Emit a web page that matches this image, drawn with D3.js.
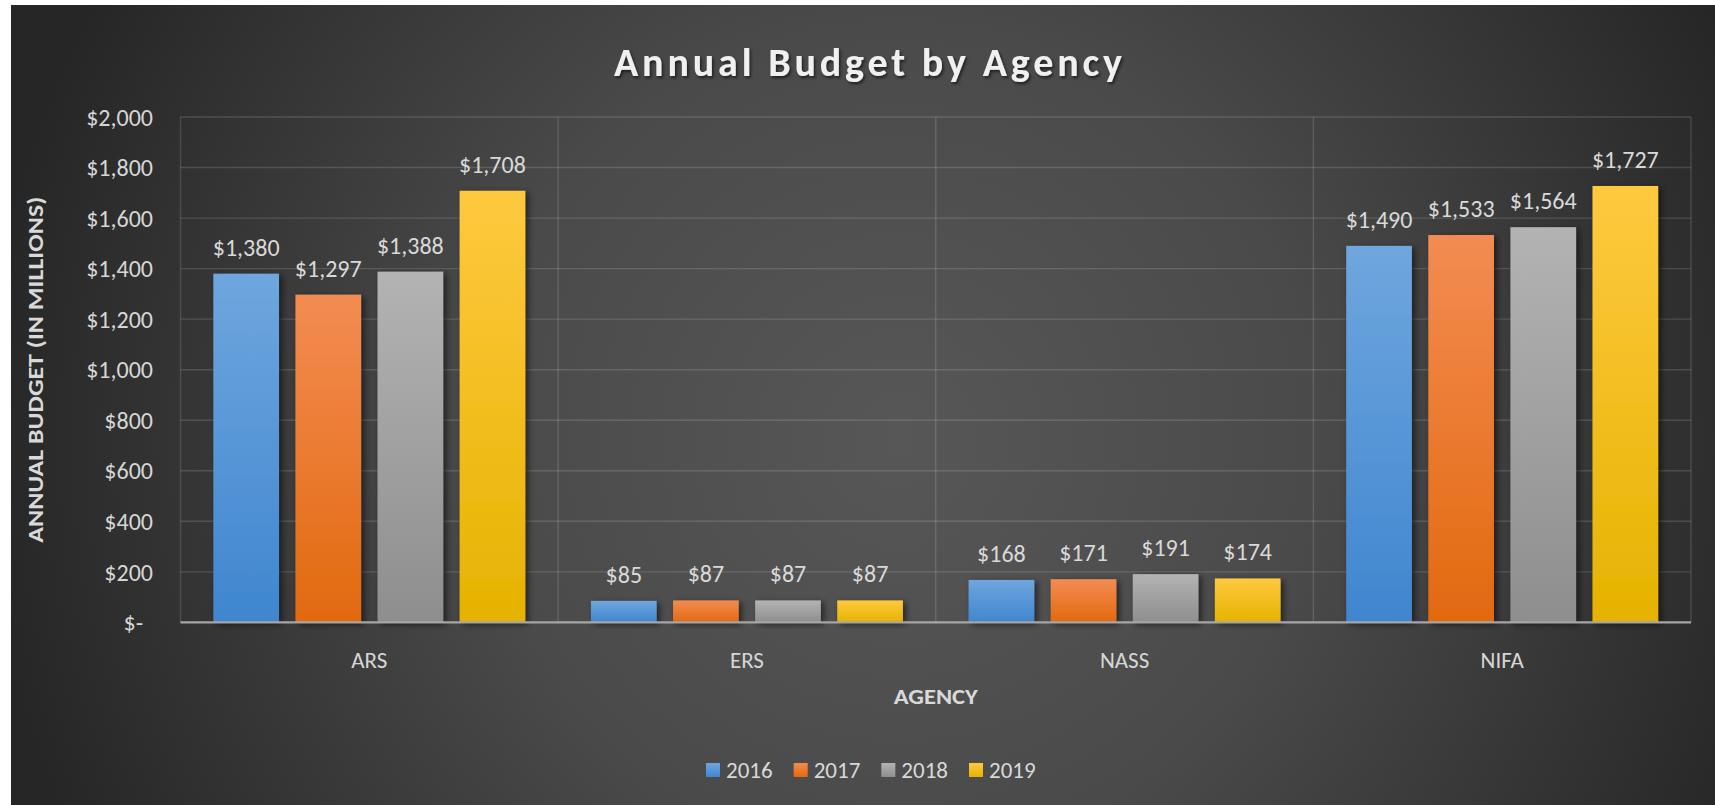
<!DOCTYPE html>
<html>
<head>
<meta charset="utf-8">
<script src="https://cdn.jsdelivr.net/npm/d3@7"></script>
<style>
  html, body { margin: 0; padding: 0; background: #ffffff; }
  svg { display: block; }
  text { font-family: Carlito, Lato, "Open Sans", sans-serif; }
</style>
</head>
<body>
<svg id="chart" width="1715" height="805"></svg>
<script>
// ---- data ----
const agencies = ["ARS", "ERS", "NASS", "NIFA"];
const years = ["2016", "2017", "2018", "2019"];
const values2016 = [1380, 85, 168, 1490];
const values2017 = [1297, 87, 171, 1533];
const values2018 = [1388, 87, 191, 1564];
const values2019 = [1708, 87, 174, 1727];
const yTicks = [0, 200, 400, 600, 800, 1000, 1200, 1400, 1600, 1800, 2000];
const seriesValues = [values2016, values2017, values2018, values2019];

// ---- styles ----
const colorsTop = ["#6fa6de", "#f38c52", "#b3b3b3", "#ffc93f"];
const colorsBottom = ["#3f86cf", "#e2690f", "#8e8e8e", "#e5b300"];

const W = 1715, H = 805;
const svg = d3.select("#chart");
const defs = svg.append("defs");

// background gradient
const bg = defs.append("radialGradient").attr("id", "bgGrad")
  .attr("gradientUnits", "userSpaceOnUse")
  .attr("cx", 900).attr("cy", 440).attr("r", 920);
bg.append("stop").attr("offset", "0").attr("stop-color", "#575757");
bg.append("stop").attr("offset", "0.45").attr("stop-color", "#4a4a4a");
bg.append("stop").attr("offset", "1").attr("stop-color", "#262626");

years.forEach((y, i) => {
  const g = defs.append("linearGradient").attr("id", "bar" + i)
    .attr("x1", 0).attr("y1", 0).attr("x2", 0).attr("y2", 1);
  g.append("stop").attr("offset", "0").attr("stop-color", colorsTop[i]);
  g.append("stop").attr("offset", "1").attr("stop-color", colorsBottom[i]);
});

const shadow = defs.append("filter").attr("id", "shadow")
  .attr("x", "-30%").attr("y", "-30%").attr("width", "160%").attr("height", "160%");
shadow.append("feDropShadow").attr("dx", 3).attr("dy", 2).attr("stdDeviation", 3)
  .attr("flood-color", "#000").attr("flood-opacity", 0.55);

const tshadow = defs.append("filter").attr("id", "tshadow")
  .attr("x", "-10%").attr("y", "-30%").attr("width", "120%").attr("height", "160%");
tshadow.append("feDropShadow").attr("dx", 1.5).attr("dy", 2).attr("stdDeviation", 1.5)
  .attr("flood-color", "#000").attr("flood-opacity", 0.6);

svg.append("rect").attr("x", 11).attr("y", 5).attr("width", W - 11).attr("height", H - 5)
  .attr("fill", "url(#bgGrad)");

// ---- scales ----
const plotL = 180.5, plotR = 1691, plotT = 117, plotB = 622.4;
const x0 = d3.scaleBand().domain(agencies).range([plotL, plotR]).padding(0);
const x1 = d3.scaleBand().domain(years).range([0, x0.bandwidth()])
  .paddingInner(0.2).paddingOuter(0.4);
const y = d3.scaleLinear().domain([0, 2000]).range([plotB, plotT]);

// gridlines
svg.append("g").selectAll("line").data(yTicks.filter(d => d > 0)).join("line")
  .attr("x1", plotL).attr("x2", plotR)
  .attr("y1", d => y(d)).attr("y2", d => y(d))
  .attr("stroke", "#ffffff").attr("stroke-opacity", 0.14).attr("stroke-width", 1.4);

// vertical category separators
const bounds = agencies.map(a => x0(a)).concat([x0(agencies[agencies.length - 1]) + x0.bandwidth()]);
svg.append("g").selectAll("line").data(bounds).join("line")
  .attr("x1", d => d).attr("x2", d => d)
  .attr("y1", plotT).attr("y2", plotB)
  .attr("stroke", "#ffffff").attr("stroke-opacity", 0.14).attr("stroke-width", 1.4);

// y axis labels
const fmt = d3.format(",");
const yAxis = d3.axisLeft(y).tickValues(yTicks).tickSize(0).tickPadding(0)
  .tickFormat(d => d === 0 ? "$-" : "$" + fmt(d));
const yg = svg.append("g").attr("transform", `translate(${153},0)`).call(yAxis);
yg.select(".domain").remove();
yg.selectAll("text")
  .attr("fill", "#d6d6d6").attr("font-size", 24)
  .attr("dx", d => d === 0 ? -10 : 0)
  .attr("dy", "0.34em");

// bars
const groups = svg.append("g").selectAll("g").data(agencies).join("g")
  .attr("transform", a => `translate(${x0(a)},0)`);

groups.selectAll("rect").data((a, ai) => years.map((yr, si) => ({ yr, si, v: seriesValues[si][ai] })))
  .join("rect")
  .attr("x", d => x1(d.yr))
  .attr("width", x1.bandwidth())
  .attr("y", d => y(d.v))
  .attr("height", d => y(0) - y(d.v))
  .attr("fill", d => `url(#bar${d.si})`)
  .attr("filter", "url(#shadow)");

groups.selectAll("text").data((a, ai) => years.map((yr, si) => ({ yr, si, v: seriesValues[si][ai] })))
  .join("text")
  .attr("x", d => x1(d.yr) + x1.bandwidth() / 2)
  .attr("y", d => y(d.v) - 18)
  .attr("text-anchor", "middle")
  .attr("fill", "#d9d9d9").attr("font-size", 24)
  .text(d => "$" + fmt(d.v));

// baseline
svg.append("line").attr("x1", plotL).attr("x2", plotR)
  .attr("y1", y(0)).attr("y2", y(0))
  .attr("stroke", "#a6a6a6").attr("stroke-width", 2.2);

// x axis labels
const xAxis = d3.axisBottom(x0).tickSize(0).tickPadding(0);
const xg = svg.append("g").attr("transform", `translate(0,${plotB})`).call(xAxis);
xg.select(".domain").remove();
xg.selectAll("text").attr("fill", "#d6d6d6").attr("font-size", 23)
  .attr("y", 46).attr("dy", 0);

// title
svg.append("text").attr("x", 868).attr("y", 76)
  .attr("text-anchor", "middle")
  .attr("fill", "#f0f0f0").attr("font-size", 40).attr("font-weight", "bold")
  .attr("textLength", 508).attr("lengthAdjust", "spacing")
  .attr("filter", "url(#tshadow)")
  .text("Annual Budget by Agency");

// axis titles
svg.append("text").attr("x", (plotL + plotR) / 2).attr("y", 704)
  .attr("text-anchor", "middle")
  .attr("fill", "#d9d9d9").attr("font-size", 22).attr("font-weight", "bold")
  .attr("textLength", 84).attr("lengthAdjust", "spacingAndGlyphs")
  .text("AGENCY");

svg.append("text")
  .attr("transform", `translate(43,${(plotT + plotB) / 2}) rotate(-90)`)
  .attr("text-anchor", "middle")
  .attr("fill", "#d9d9d9").attr("font-size", 22).attr("font-weight", "bold")
  .attr("textLength", 346).attr("lengthAdjust", "spacingAndGlyphs")
  .text("ANNUAL BUDGET (IN MILLIONS)");

// legend
const legendX = d3.scalePoint().domain(years).range([706, 969]);
const lg = svg.append("g").selectAll("g").data(years).join("g")
  .attr("transform", d => `translate(${legendX(d)},${763})`);
lg.append("rect").attr("width", 14).attr("height", 14)
  .attr("fill", (d, i) => `url(#bar${i})`);
lg.append("text").attr("x", 20).attr("y", 15)
  .attr("fill", "#d9d9d9").attr("font-size", 23)
  .text(d => d);
</script>
</body>
</html>
